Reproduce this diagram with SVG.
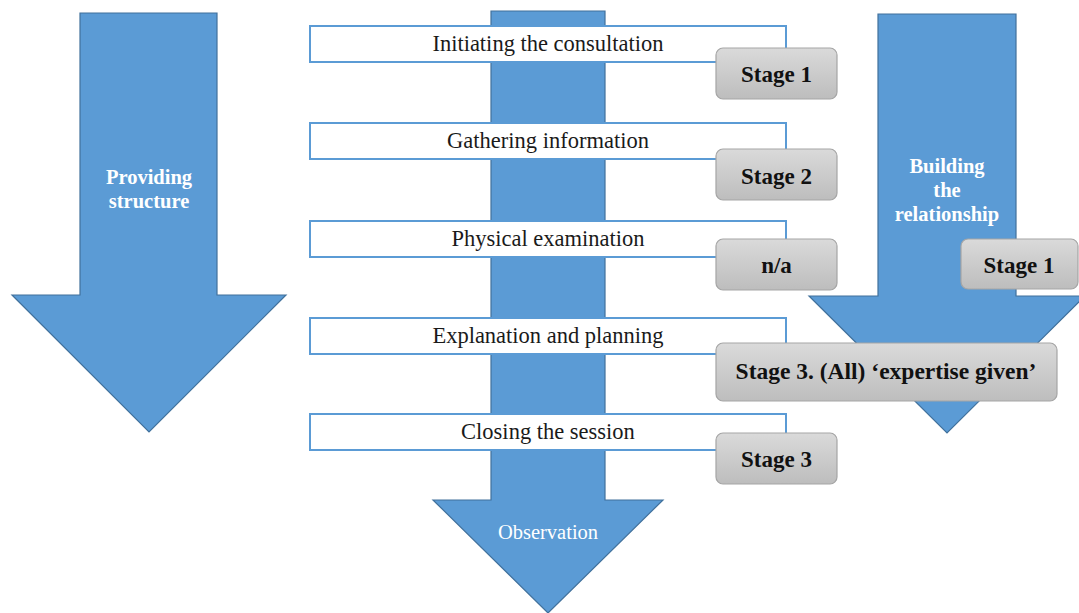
<svg xmlns="http://www.w3.org/2000/svg" width="1079" height="613" viewBox="0 0 1079 613">
  <defs>
    <linearGradient id="stageFill" x1="0" y1="0" x2="0" y2="1">
      <stop offset="0" stop-color="#dadada"/>
      <stop offset="1" stop-color="#bdbdbd"/>
    </linearGradient>
    <style>
      .arrow { fill: #5b9bd5; stroke: #41719c; stroke-width: 1.2; }
      .step { fill: #ffffff; stroke: #5b9bd5; stroke-width: 2; }
      .step-text { font-family: "Liberation Serif", "Times New Roman", serif; font-size: 22.5px; fill: #1a1a1a; text-anchor: middle; }
      .stage { fill: url(#stageFill); stroke: #a5a5a5; stroke-width: 1.2; }
      .stage-text { font-family: "Liberation Serif", "Times New Roman", serif; font-size: 23px; font-weight: bold; fill: #111111; text-anchor: middle; }
      .arrow-label { font-family: "Liberation Serif", "Times New Roman", serif; font-size: 20.5px; font-weight: bold; fill: #ffffff; text-anchor: middle; }
      .arrow-label-plain { font-family: "Liberation Serif", "Times New Roman", serif; font-size: 20.5px; fill: #ffffff; text-anchor: middle; }
    </style>
  </defs>

  <!-- Left arrow: providing structure -->
  <g id="providing-structure">
    <path class="arrow" d="M80,13 H217 V295 H286 L149,432 L12,295 H80 Z"/>
    <text class="arrow-label" x="149" y="184">Providing</text>
    <text class="arrow-label" x="149" y="208">structure</text>
  </g>

  <!-- Central arrow: observation -->
  <g id="observation">
    <path class="arrow" d="M491,11 H605 V500 H663 L548,613 L433,500 H491 Z"/>
    <text class="arrow-label-plain" x="548" y="539">Observation</text>
  </g>

  <!-- Right arrow: building the relationship -->
  <g id="building-relationship">
    <path class="arrow" d="M878,14 H1016 V296 H1085 L947,433 L809,296 H878 Z"/>
    <text class="arrow-label" x="947" y="173">Building</text>
    <text class="arrow-label" x="947" y="197">the</text>
    <text class="arrow-label" x="947" y="221">relationship</text>
  </g>

  <!-- Consultation steps -->
  <g id="step-initiating">
    <rect class="step" x="310" y="26" width="476" height="36"/>
    <text class="step-text" x="548" y="51">Initiating the consultation</text>
  </g>
  <g id="step-gathering">
    <rect class="step" x="310" y="123" width="476" height="36"/>
    <text class="step-text" x="548" y="148">Gathering information</text>
  </g>
  <g id="step-physical">
    <rect class="step" x="310" y="221" width="476" height="36"/>
    <text class="step-text" x="548" y="246">Physical examination</text>
  </g>
  <g id="step-explanation">
    <rect class="step" x="310" y="318" width="476" height="36"/>
    <text class="step-text" x="548" y="343">Explanation and planning</text>
  </g>
  <g id="step-closing">
    <rect class="step" x="310" y="414" width="476" height="36"/>
    <text class="step-text" x="548" y="439">Closing the session</text>
  </g>

  <!-- Stage tags -->
  <g id="stage-initiating">
    <rect class="stage" x="716" y="48" width="121" height="51" rx="7"/>
    <text class="stage-text" x="776.5" y="82">Stage 1</text>
  </g>
  <g id="stage-gathering">
    <rect class="stage" x="716" y="149" width="121" height="51" rx="7"/>
    <text class="stage-text" x="776.5" y="184">Stage 2</text>
  </g>
  <g id="stage-physical">
    <rect class="stage" x="716" y="239" width="121" height="51" rx="7"/>
    <text class="stage-text" x="776.5" y="273">n/a</text>
  </g>
  <g id="stage-relationship">
    <rect class="stage" x="961" y="239" width="117" height="50" rx="7"/>
    <text class="stage-text" x="1019" y="273">Stage 1</text>
  </g>
  <g id="stage-explanation">
    <rect class="stage" x="716" y="343" width="341" height="58" rx="7"/>
    <text class="stage-text" x="886" y="379" style="font-size:23.5px">Stage 3. (All) ‘expertise given’</text>
  </g>
  <g id="stage-closing">
    <rect class="stage" x="716" y="433" width="121" height="51" rx="7"/>
    <text class="stage-text" x="776.5" y="467">Stage 3</text>
  </g>

  <!-- no connectors: the stages sit beside the steps -->
  <g id="connectors"/>
</svg>
